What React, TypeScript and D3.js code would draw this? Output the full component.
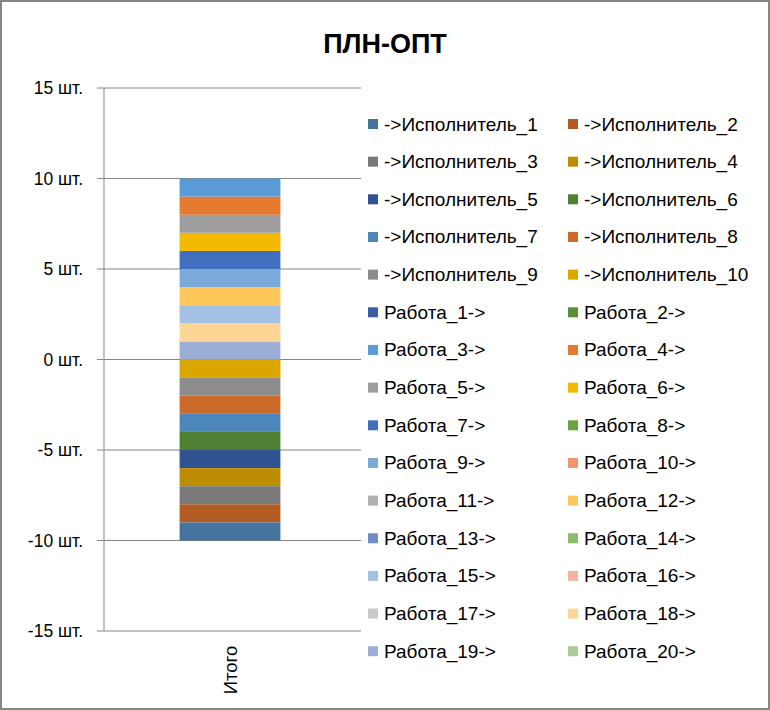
import React from "react";
import * as d3 from "d3";

const categories = ["Итого"];
const seriesNames = [
  "->Исполнитель_1", "->Исполнитель_2", "->Исполнитель_3", "->Исполнитель_4", "->Исполнитель_5",
  "->Исполнитель_6", "->Исполнитель_7", "->Исполнитель_8", "->Исполнитель_9", "->Исполнитель_10",
  "Работа_1->", "Работа_2->", "Работа_3->", "Работа_4->", "Работа_5->",
  "Работа_6->", "Работа_7->", "Работа_8->", "Работа_9->", "Работа_10->",
  "Работа_11->", "Работа_12->", "Работа_13->", "Работа_14->", "Работа_15->",
  "Работа_16->", "Работа_17->", "Работа_18->", "Работа_19->", "Работа_20->",
];
const seriesValues = [
  -1, -1, -1, -1, -1, -1, -1, -1, -1, -1,
  0, 0, 1, 1, 1, 1, 1, 0, 1, 0,
  0, 1, 0, 0, 1, 0, 0, 1, 1, 0,
];
const seriesColors = [
  "#44739e", "#b35c22", "#7a7a7a", "#bd8c00", "#2e5390",
  "#4f8033", "#4d86bb", "#cc6a2a", "#8c8c8c", "#dba600",
  "#3b5da6", "#5b8f3a", "#5b9bd5", "#e57a30", "#9e9e9e",
  "#f3b800", "#416fbe", "#6aa33f", "#7aa9da", "#f1956a",
  "#b0b0b0", "#ffc75a", "#6f8ccb", "#8cbb6b", "#a3c1e5",
  "#f4b59c", "#c9c9c9", "#ffd595", "#9baed7", "#abcb99",
];
const yTicks = [-15, -10, -5, 0, 5, 10, 15];
const title = "ПЛН-ОПТ";

export default function App() {
  const W = 770, H = 710;
  const left = 104, gridRight = 361, top = 88, bottom = 631;
  const y = d3.scaleLinear().domain([-15, 15]).range([bottom, top]);
  const x = d3.scaleBand().domain(categories).range([left, 356]).paddingInner(0).paddingOuter(0.75);

  // stack in reverse series order (last series nearest zero), split by sign
  let pos = 0, neg = 0;
  const segs: { i: number; y0: number; y1: number }[] = [];
  for (let i = seriesValues.length - 1; i >= 0; i--) {
    const v = seriesValues[i];
    if (v > 0) { segs.push({ i, y0: pos, y1: pos + v }); pos += v; }
    else if (v < 0) { segs.push({ i, y0: neg + v, y1: neg }); neg += v; }
  }

  const font = "'Liberation Sans', Arial, sans-serif";
  const legX = [368, 568];
  const legY0 = 124, legDy = 37.66;
  const cx = x(categories[0])! + x.bandwidth() / 2;

  return (
    <svg width={W} height={H} style={{ position: "absolute", left: 0, top: 0 }}>
      <rect x={0} y={0} width={W} height={H} fill="#fff" />
      <rect x={1} y={1} width={W - 2} height={H - 2} fill="none" stroke="#868686" strokeWidth={2} />
      <text x={385} y={53} textAnchor="middle" fontFamily={font} fontWeight="bold" fontSize={27} fill="#000">{title}</text>
      {yTicks.map((t) => (
        <g key={t}>
          <line x1={97} x2={gridRight} y1={y(t)} y2={y(t)} stroke="#868686" strokeWidth={1} />
          <text x={83} y={y(t) + 6} textAnchor="end" fontFamily={font} fontSize={17.5} fill="#000">{`${t} шт.`}</text>
        </g>
      ))}
      <line x1={left} x2={left} y1={top} y2={bottom} stroke="#868686" strokeWidth={1} />
      {segs.map((s) => (
        <rect key={s.i} x={x(categories[0])!} width={x.bandwidth()} y={y(s.y1)} height={y(s.y0) - y(s.y1)} fill={seriesColors[s.i]} />
      ))}
      <text transform={`translate(${cx + 7},${670}) rotate(-90)`} textAnchor="middle" fontFamily={font} fontSize={18.5} fill="#000">{categories[0]}</text>
      {seriesNames.map((n, i) => {
        const col = i % 2, row = Math.floor(i / 2);
        const cy = legY0 + row * legDy;
        return (
          <g key={n}>
            <rect x={legX[col]} y={cy - 5} width={10} height={10} fill={seriesColors[i]} />
            <text x={legX[col] + 16} y={cy + 6.5} fontFamily={font} fontSize={19} fill="#000">{n}</text>
          </g>
        );
      })}
    </svg>
  );
}
